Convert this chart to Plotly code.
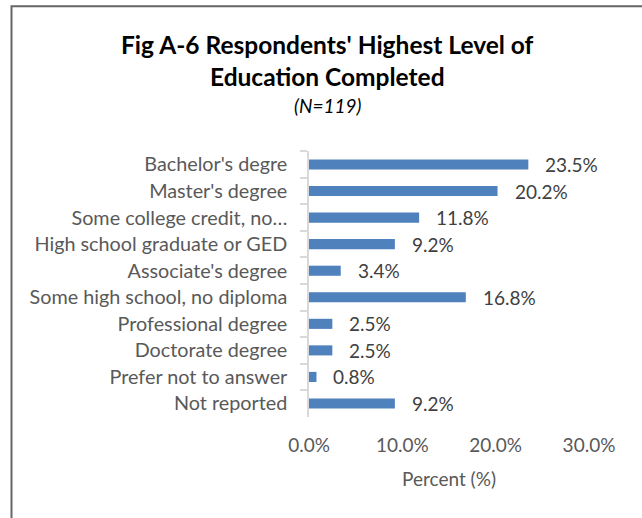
import plotly.graph_objects as go

categories = [
    "Bachelor's degre",
    "Master's degree",
    "Some college credit, no…",
    "High school graduate or GED",
    "Associate's degree",
    "Some high school, no diploma",
    "Professional degree",
    "Doctorate degree",
    "Prefer not to answer",
    "Not reported",
]
percents = [23.5, 20.2, 11.8, 9.2, 3.4, 16.8, 2.5, 2.5, 0.8, 9.2]
x_ticks = [0, 10, 20, 30]
x_tick_labels = [f"{t:.1f}%" for t in x_ticks]
title_lines = ["Fig A-6 Respondents' Highest Level of", "Education Completed"]
subtitle = "(N=119)"

FONT = "Lato, 'Open Sans', sans-serif"
BAR = "#4F81BD"
W, H = 642, 518
L, R, T, B = 309, 53, 151, 101
PW, PH = W - L - R, H - T - B

def px_x(p):
    return (p - L) / PW

def px_y(p):
    return (H - B - p) / PH

fig = go.Figure()
fig.add_trace(go.Bar(
    x=percents,
    y=categories,
    orientation="h",
    marker=dict(color=BAR, line=dict(width=0)),
    hoverinfo="skip",
))

annotations = []
for c, v in zip(categories, percents):
    annotations.append(dict(
        x=v, y=c, xref="x", yref="y", text=f"{v:.1f}%",
        showarrow=False, xanchor="left", yanchor="middle", xshift=15,
        font=dict(family=FONT, size=19, color="#404040"),
    ))
for line, cy in zip(title_lines, [45, 76]):
    annotations.append(dict(
        x=px_x(327.7), y=px_y(cy), xref="paper", yref="paper", text=f"<b>{line}</b>",
        showarrow=False, xanchor="center", yanchor="middle",
        font=dict(family=FONT, size=24.5, color="#000000"),
    ))
annotations.append(dict(
    x=px_x(327.7), y=px_y(105), xref="paper", yref="paper", text=f"<i>{subtitle}</i>",
    showarrow=False, xanchor="center", yanchor="middle",
    font=dict(family=FONT, size=19, color="#000000"),
))

fig.update_layout(
    template="none",
    width=W, height=H,
    margin=dict(l=L, r=R, t=T, b=B, pad=0, autoexpand=False),
    paper_bgcolor="white", plot_bgcolor="white",
    showlegend=False,
    bargap=0.62,
    annotations=annotations,
    shapes=[dict(
        type="rect", xref="paper", yref="paper",
        x0=px_x(11.5), x1=px_x(700), y0=px_y(600), y1=px_y(6.3),
        line=dict(color="#666666", width=2), fillcolor="rgba(0,0,0,0)", layer="below",
    )],
    xaxis=dict(
        range=[0, 30], tickmode="array", tickvals=x_ticks, ticktext=x_tick_labels,
        showline=False, showgrid=False, zeroline=False, ticks="",
        automargin=False,
        ticklabelstandoff=15,
        tickfont=dict(family=FONT, size=19, color="#595959"),
        title=dict(text="Percent (%)", standoff=17,
                   font=dict(family=FONT, size=19, color="#595959")),
        fixedrange=True,
    ),
    yaxis=dict(
        autorange="reversed", type="category",
        showline=True, linecolor="#D9D9D9", linewidth=1.5,
        ticks="outside", tickson="boundaries", ticklen=7, tickcolor="#D9D9D9", tickwidth=1.5,
        ticklabelstandoff=16,
        automargin=False,
        showgrid=False, zeroline=False,
        tickfont=dict(family=FONT, size=19.8, color="#595959"),
        fixedrange=True,
    ),
)

fig.write_html(
    "out.html",
    config={"displayModeBar": False},
    post_script="document.body.style.margin='0';document.body.style.overflow='hidden';",
)
